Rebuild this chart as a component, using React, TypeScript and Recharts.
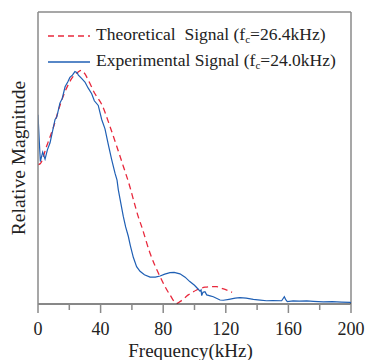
import { LineChart, Line, XAxis, YAxis, ReferenceLine, Legend, Label } from 'recharts';

// frequency (kHz) and relative magnitude
const theoFreq = [0, 1.3, 5.5, 10, 14, 18, 22, 25, 27.5, 30, 32, 36.4, 40.7, 46, 50.3, 54.5, 58.8, 61, 64, 66.3, 71.6, 78, 84.3, 88.6, 90.7, 96, 101.4, 106.7, 110, 114, 118, 121.6, 124];
const theoMag = [0.597, 0.6, 0.675, 0.76, 0.85, 0.92, 0.97, 0.99, 1.0, 0.985, 0.96, 0.9, 0.855, 0.76, 0.675, 0.59, 0.5, 0.446, 0.375, 0.33, 0.217, 0.117, 0.039, 0.003, 0.01, 0.039, 0.06, 0.072, 0.074, 0.074, 0.066, 0.057, 0.05];

const expFreq = [0, 0.8, 1.5, 3, 4.5, 6, 7.7, 9, 10.9, 12, 14, 15.5, 17.3, 19, 20.4, 22, 23.6, 25, 25.8, 28, 30, 32, 34.3, 36, 38.5, 40.7, 42.8, 45, 47, 49.2, 50.5, 51.3, 52.4, 54.5, 56, 57.7, 59, 60.9, 63, 65.2, 68, 71.6, 75, 78, 81, 84.3, 87, 90.7, 94, 97, 100, 102.4, 103.5, 104.2, 104.6, 105.4, 106.7, 107.8, 110, 112, 116.3, 118.4, 122, 126, 129, 133, 137.6, 142, 146, 150, 155.7, 157.4, 158.2, 159.3, 163, 167, 171.7, 176, 182.3, 188, 194, 199.4, 200];
const expMag = [0.81, 0.7, 0.61, 0.65, 0.62, 0.66, 0.69, 0.73, 0.79, 0.8, 0.86, 0.88, 0.93, 0.95, 0.97, 0.98, 0.995, 0.99, 0.98, 0.965, 0.95, 0.925, 0.9, 0.87, 0.85, 0.79, 0.75, 0.68, 0.62, 0.56, 0.53, 0.49, 0.45, 0.375, 0.33, 0.29, 0.25, 0.2, 0.16, 0.14, 0.125, 0.115, 0.115, 0.12, 0.128, 0.134, 0.135, 0.129, 0.115, 0.096, 0.08, 0.063, 0.055, 0.06, 0.036, 0.05, 0.053, 0.039, 0.035, 0.031, 0.017, 0.016, 0.02, 0.025, 0.027, 0.025, 0.02, 0.017, 0.014, 0.015, 0.014, 0.031, 0.02, 0.01, 0.013, 0.012, 0.013, 0.011, 0.009, 0.01, 0.008, 0.007, 0.006];

const xTicks = [0, 20, 40, 60, 80, 100, 120, 140, 160, 180, 200];

const theoData = theoFreq.map((f, i) => ({ f, v: theoMag[i] }));
const expData = expFreq.map((f, i) => ({ f, v: expMag[i] }));

const FONT = '"Liberation Serif", "Times New Roman", serif';
const RED = '#e8283c';
const BLUE = '#1f5fb4';
const GRAY = '#8a8a8a';

const FreqTick = ({ x, y, payload }: any) => {
  const major = payload.value % 40 === 0;
  return (
    <g>
      <line x1={x} x2={x} y1={y} y2={y + (major ? 9 : 6)} stroke={GRAY} strokeWidth={1.5} />
      {major && (
        <text x={x} y={y + 31} textAnchor="middle" fontSize={18} fontFamily={FONT} fill="#222">
          {payload.value}
        </text>
      )}
    </g>
  );
};

const legendRows = [
  { label: 'Theoretical\u00a0 Signal (f', fc: '26.4', color: RED, dash: '6 4' },
  { label: 'Experimental Signal (f', fc: '24.0', color: BLUE, dash: undefined },
];

const LegendBox = () => (
  <div style={{ fontFamily: FONT, fontSize: 17.5, color: '#222', lineHeight: '26px' }}>
    {legendRows.map((r) => (
      <div key={r.fc} style={{ display: 'flex', alignItems: 'center', height: 26, whiteSpace: 'nowrap' }}>
        <svg width={48} height={10} style={{ flex: 'none' }}>
          <line x1={0} x2={42} y1={5} y2={5} stroke={r.color} strokeWidth={1.3} strokeDasharray={r.dash} />
        </svg>
        <span>
          {r.label}
          <sub style={{ fontSize: 11, verticalAlign: '-3px' }}>c</sub>={r.fc}kHz)
        </span>
      </div>
    ))}
  </div>
);

export default function App() {
  return (
    <div style={{ position: 'absolute', left: 0, top: 0 }}>
      <LineChart width={366} height={360} margin={{ top: 12, right: 15, left: 0, bottom: 0 }}>
        <XAxis
          type="number"
          dataKey="f"
          domain={[0, 200]}
          ticks={xTicks}
          height={56}
          stroke="#111"
          tickSize={0}
          tickMargin={0}
          tick={<FreqTick />}
          allowDataOverflow
        >
          <Label value="Frequency(kHz)" position="insideBottom" offset={3} dx={-4} style={{ fontFamily: FONT, fontSize: 19, fill: '#222' }} />
        </XAxis>
        <YAxis
          type="number"
          domain={[0, 1.25]}
          width={38}
          tick={false}
          tickLine={false}
          stroke={GRAY}
          strokeWidth={1.5}
          allowDataOverflow
        >
          <Label value="Relative Magnitude" angle={-90} position="center" dx={-1} style={{ fontFamily: FONT, fontSize: 19.5, fill: '#222' }} />
        </YAxis>
        <ReferenceLine y={1.25} stroke={GRAY} strokeWidth={1.5} />
        <ReferenceLine x={200} stroke={GRAY} strokeWidth={1.5} />
        <Line data={theoData} dataKey="v" type="monotone" stroke={RED} strokeWidth={1.3} strokeDasharray="6 4" dot={false} isAnimationActive={false} />
        <Line data={expData} dataKey="v" type="linear" stroke={BLUE} strokeWidth={1.2} dot={false} isAnimationActive={false} />
        <Legend
          layout="vertical"
          align="center"
          verticalAlign="middle"
          content={<LegendBox />}
          wrapperStyle={{ left: 48, top: 23, width: 'auto', height: 'auto' }}
        />
      </LineChart>
    </div>
  );
}
